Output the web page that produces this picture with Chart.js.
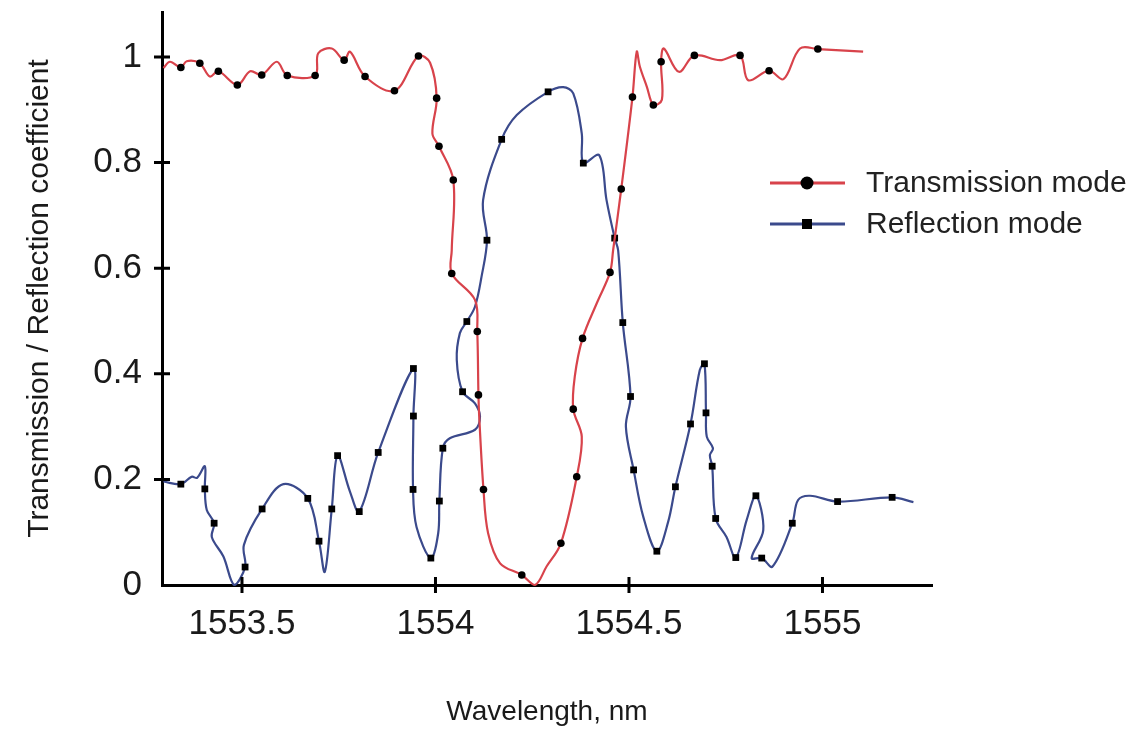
<!DOCTYPE html>
<html>
<head>
<meta charset="utf-8">
<title>Transmission / Reflection</title>
<script src="https://cdn.jsdelivr.net/npm/chart.js@4.4.0/dist/chart.umd.min.js"></script>
<style>
  body { margin: 0; background: #fff; }
  #wrap { width: 1135px; height: 731px; }
</style>
</head>
<body>
<div id="wrap"><canvas id="spectrum" width="1135" height="731"></canvas></div>
<script>
// values (wavelength in nm, coefficient 0..1)
const seriesNames = ['Transmission mode', 'Reflection mode'];

const transX = [1553.297, 1553.314, 1553.342, 1553.357, 1553.391, 1553.417, 1553.439, 1553.488, 1553.521, 1553.551,
  1553.590, 1553.617, 1553.689, 1553.697, 1553.732, 1553.764, 1553.779, 1553.818, 1553.894, 1553.956,
  1553.986, 1554.003, 1553.992, 1554.009, 1554.046, 1554.042, 1554.042, 1554.102, 1554.108, 1554.111,
  1554.113, 1554.124, 1554.136, 1554.167, 1554.223, 1554.257, 1554.287, 1554.324, 1554.365, 1554.378,
  1554.356, 1554.360, 1554.380, 1554.417, 1554.451, 1554.459, 1554.480, 1554.509, 1554.520, 1554.528,
  1554.546, 1554.563, 1554.585, 1554.583, 1554.590, 1554.629, 1554.669, 1554.735, 1554.787, 1554.808,
  1554.862, 1554.899, 1554.942, 1554.988, 1555.105];
const transY = [0.979, 0.991, 0.980, 0.992, 0.988, 0.963, 0.973, 0.947, 0.973, 0.966,
  0.991, 0.965, 0.965, 1.007, 1.016, 0.994, 1.010, 0.963, 0.936, 1.002,
  0.989, 0.922, 0.855, 0.831, 0.767, 0.634, 0.590, 0.540, 0.480, 0.360,
  0.319, 0.181, 0.098, 0.041, 0.019, 0.000, 0.035, 0.079, 0.205, 0.281,
  0.333, 0.395, 0.467, 0.534, 0.592, 0.634, 0.750, 0.924, 1.010, 0.982,
  0.944, 0.909, 0.919, 0.991, 1.016, 0.972, 1.003, 0.994, 1.003, 0.956,
  0.974, 0.958, 1.016, 1.015, 1.010];
// which points carry a marker
const transMarks = [2, 4, 6, 7, 9, 11, 12, 15, 17, 18, 19, 21, 23, 24, 26, 28, 29, 31, 34, 37, 38, 40, 42, 44,
  46, 47, 51, 53, 56, 58, 60, 63];

const reflX = [1553.297, 1553.342, 1553.370, 1553.384, 1553.404, 1553.404, 1553.409, 1553.428, 1553.422, 1553.452,
  1553.480, 1553.508, 1553.505, 1553.552, 1553.607, 1553.670, 1553.699, 1553.714, 1553.732, 1553.747,
  1553.779, 1553.803, 1553.852, 1553.943, 1553.943, 1553.942, 1553.951, 1553.988, 1554.007, 1554.010,
  1554.019, 1554.037, 1554.102, 1554.115, 1554.102, 1554.070, 1554.055, 1554.063, 1554.081, 1554.102,
  1554.119, 1554.133, 1554.123, 1554.171, 1554.210, 1554.291, 1554.330, 1554.356, 1554.378, 1554.382,
  1554.423, 1554.442, 1554.463, 1554.472, 1554.484, 1554.504, 1554.492, 1554.512, 1554.537, 1554.572,
  1554.601, 1554.620, 1554.659, 1554.683, 1554.695, 1554.699, 1554.701, 1554.717, 1554.709, 1554.715,
  1554.724, 1554.752, 1554.776, 1554.804, 1554.828, 1554.847, 1554.817, 1554.843, 1554.871, 1554.922,
  1554.937, 1554.968, 1555.039, 1555.180, 1555.235];
const reflY = [0.196, 0.191, 0.205, 0.203, 0.225, 0.182, 0.142, 0.117, 0.091, 0.054,
  0.000, 0.034, 0.076, 0.144, 0.191, 0.164, 0.083, 0.025, 0.144, 0.245,
  0.177, 0.139, 0.251, 0.410, 0.320, 0.181, 0.110, 0.051, 0.098, 0.159,
  0.259, 0.278, 0.294, 0.319, 0.344, 0.366, 0.426, 0.477, 0.499, 0.527,
  0.584, 0.653, 0.729, 0.844, 0.890, 0.934, 0.943, 0.931, 0.855, 0.799,
  0.814, 0.729, 0.657, 0.634, 0.497, 0.357, 0.300, 0.218, 0.129, 0.064,
  0.119, 0.186, 0.305, 0.407, 0.419, 0.326, 0.281, 0.259, 0.246, 0.225,
  0.126, 0.091, 0.052, 0.123, 0.169, 0.104, 0.051, 0.051, 0.035, 0.117,
  0.161, 0.169, 0.158, 0.166, 0.157];
const reflMarks = [1, 5, 7, 11, 13, 15, 16, 18, 19, 21, 22, 23, 24, 25, 27, 29, 30, 35, 38, 41, 43, 45, 49,
  52, 54, 55, 57, 59, 61, 62, 64, 65, 69, 70, 72, 74, 77, 79, 82, 83];

// axis ranges and ticks
const xMin = 1553.2933, xMax = 1555.283, xStep = 0.5;
const yMin = 0, yMax = 1.0852, yStep = 0.2;

const FONT = '"Liberation Sans", Arial, sans-serif';
const redLine = '#d8434b';
const blueLine = '#3b4a8c';

function pts(xs, ys) {
  return xs.map((x, i) => ({ x: x, y: ys[i] }));
}

// tick marks that cross the axis line, like the original
const crossTicks = {
  id: 'crossTicks',
  afterDraw(chart) {
    const ctx = chart.ctx;
    const xs = chart.scales.x, ys = chart.scales.y;
    const base = chart.chartArea.bottom, left = chart.chartArea.left;
    ctx.save();
    ctx.strokeStyle = '#000';
    ctx.lineWidth = 3;
    ctx.beginPath();
    xs.ticks.forEach(t => {
      const px = xs.getPixelForValue(t.value);
      ctx.moveTo(px, base - 8);
      ctx.lineTo(px, base + 8);
    });
    ys.ticks.forEach(t => {
      if (t.value === 0) return;
      const py = ys.getPixelForValue(t.value);
      ctx.moveTo(left - 8, py);
      ctx.lineTo(left + 8, py);
    });
    ctx.stroke();
    ctx.restore();
  }
};

// legend sits to the right of the plot
const sideLegend = {
  id: 'sideLegend',
  afterDraw(chart) {
    const ctx = chart.ctx;
    ctx.save();
    chart.data.datasets.forEach((ds, i) => {
      const y = 183 + i * 41;
      ctx.strokeStyle = ds.borderColor;
      ctx.lineWidth = 3;
      ctx.beginPath();
      ctx.moveTo(770, y);
      ctx.lineTo(845, y);
      ctx.stroke();
      ctx.fillStyle = '#000';
      if (ds.pointStyle === 'rect') {
        ctx.fillRect(802, y - 5, 10, 10);
      } else {
        ctx.beginPath();
        ctx.arc(807, y, 6.5, 0, Math.PI * 2);
        ctx.fill();
      }
      ctx.fillStyle = '#222';
      ctx.font = '30px ' + FONT;
      ctx.textBaseline = 'middle';
      ctx.fillText(ds.label, 866, y + 1);
    });
    ctx.restore();
  }
};

function keepInRange(scale) {
  scale.ticks = scale.ticks.filter(t => t.value >= scale.min - 1e-9 && t.value <= scale.max + 1e-9);
}

let ctx = document.getElementById('spectrum').getContext('2d');
let chart = new Chart(ctx, {
  type: 'line',
  data: {
    datasets: [{
      label: seriesNames[0],
      data: pts(transX, transY),
      borderColor: redLine,
      borderWidth: 2.2,
      tension: 0.35,
      pointStyle: 'circle',
      pointRadius: c => transMarks.includes(c.dataIndex) ? 3.8 : 0,
      pointBackgroundColor: '#000',
      pointBorderWidth: 0,
      clip: false
    }, {
      label: seriesNames[1],
      data: pts(reflX, reflY),
      borderColor: blueLine,
      borderWidth: 2.2,
      tension: 0.35,
      pointStyle: 'rect',
      pointRadius: c => reflMarks.includes(c.dataIndex) ? 4.8 : 0,
      pointBackgroundColor: '#000',
      pointBorderWidth: 0,
      clip: false
    }]
  },
  options: {
    responsive: false,
    animation: false,
    events: [],
    layout: { padding: { top: 12, right: 203, bottom: 0, left: 0 } },
    plugins: { legend: { display: false }, tooltip: { enabled: false } },
    scales: {
      x: {
        type: 'linear',
        min: xMin,
        max: xMax,
        border: { display: true, width: 3, color: '#000' },
        grid: { drawOnChartArea: false, drawTicks: true, tickLength: 8, color: 'rgba(0,0,0,0)' },
        ticks: {
          stepSize: xStep,
          includeBounds: false,
          padding: 10,
          color: '#1a1a1a',
          font: { family: FONT, size: 35 },
          callback: v => String(Number(v.toFixed(1)))
        },
        title: {
          display: true,
          text: 'Wavelength, nm',
          color: '#1a1a1a',
          font: { family: FONT, size: 28 },
          padding: { top: 0, bottom: 2 }
        },
        afterBuildTicks: keepInRange,
        afterFit: s => { s.height = 146; s.paddingLeft = 0; s.paddingRight = 0; }
      },
      y: {
        type: 'linear',
        min: yMin,
        max: yMax,
        border: { display: true, width: 3, color: '#000' },
        grid: { drawOnChartArea: false, drawTicks: true, tickLength: 8, color: 'rgba(0,0,0,0)' },
        ticks: {
          stepSize: yStep,
          includeBounds: false,
          padding: 12,
          color: '#1a1a1a',
          font: { family: FONT, size: 35 },
          callback: v => String(Number(v.toFixed(1)))
        },
        title: {
          display: true,
          text: 'Transmission / Reflection coefficient',
          color: '#1a1a1a',
          font: { family: FONT, size: 30 },
          padding: { top: 22, bottom: 0 }
        },
        afterBuildTicks: keepInRange,
        afterFit: s => { s.width = 162; s.paddingTop = 0; s.paddingBottom = 0; }
      }
    }
  },
  plugins: [crossTicks, sideLegend]
});
</script>
</body>
</html>
